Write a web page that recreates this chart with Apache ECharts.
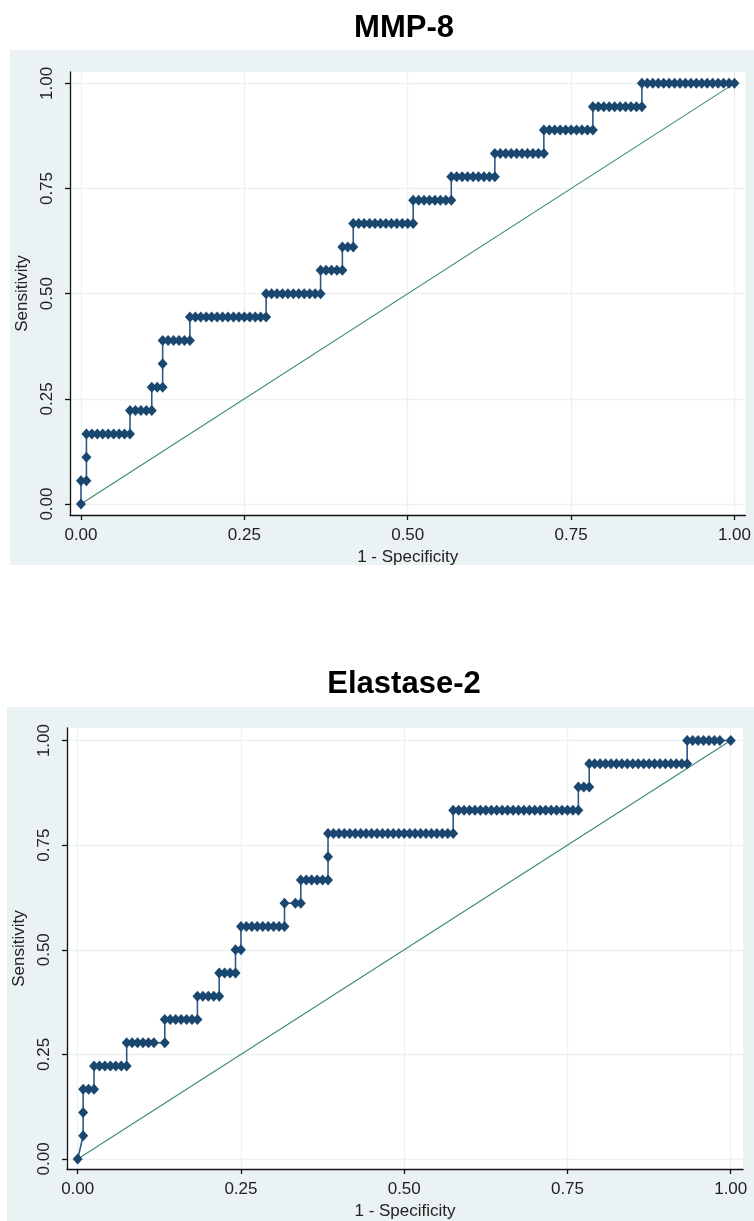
<!DOCTYPE html>
<html>
<head>
<meta charset="utf-8">
<title>ROC curves</title>
<script src="https://cdn.jsdelivr.net/npm/echarts@6/dist/echarts.min.js"></script>
<style>
html, body { margin: 0; padding: 0; background: #fff; }
#roc { width: 754px; height: 1221px; }
</style>
</head>
<body>
<div id="roc"></div>
<script>
// cases behind both curves
var nNeg = 120;
var nPos = 18;

// ROC steps: [true positives, first false positive, last false positive]
var mmp8Steps = [
    [0, 0, 0], [1, 0, 1], [2, 1, 1], [3, 1, 9], [4, 9, 13], [5, 13, 15], [6, 15, 15],
    [7, 15, 20], [8, 20, 34], [9, 34, 44], [10, 44, 48], [11, 48, 50], [12, 50, 61],
    [13, 61, 68], [14, 68, 76], [15, 76, 85], [16, 85, 94], [17, 94, 103], [18, 103, 120]
];
var elastaseSteps = [
    [0, 0, 0], [1, 1, 1], [2, 1, 1], [3, 1, 3], [4, 3, 9], [5, 9, 14], [5, 16, 16],
    [6, 16, 22], [7, 22, 26], [8, 26, 29], [9, 29, 30], [10, 30, 38], [11, 38, 38],
    [11, 40, 41], [12, 41, 46], [13, 46, 46], [14, 46, 69], [15, 69, 92], [16, 92, 94],
    [17, 94, 112], [18, 112, 118], [18, 120, 120]
];

var chanceLine = [[0, 0], [1, 1]];
var tickValues = [0, 0.25, 0.5, 0.75, 1];
var titles = ['MMP-8', 'Elastase-2'];

var bg = '#EAF2F3';
var navy = '#1a476f';
var font = 'Liberation Sans';

function rocPoints(steps) {
    var pts = [];
    steps.forEach(function (s) {
        for (var fp = s[1]; fp <= s[2]; fp++) {
            pts.push([fp / nNeg, s[0] / nPos]);
        }
    });
    return pts;
}

function xAxisFor(i, min, max) {
    return {
        type: 'value', gridIndex: i, min: min, max: max,
        name: '1 - Specificity', nameLocation: 'middle', nameGap: 34,
        nameTextStyle: { fontFamily: font, fontSize: 17, color: '#222' },
        axisLine: { show: true, onZero: false, lineStyle: { color: '#111', width: 1.3 } },
        axisTick: { show: true, length: 5, customValues: tickValues, lineStyle: { color: '#111', width: 1.3 } },
        axisLabel: {
            customValues: tickValues, margin: 12, fontFamily: font, fontSize: 17, color: '#222',
            formatter: function (v) { return v.toFixed(2); }
        },
        splitLine: { show: true, lineStyle: { color: bg, width: 1.3 } }
    };
}

function yAxisFor(i, min, max, gap) {
    return {
        type: 'value', gridIndex: i, min: min, max: max,
        name: 'Sensitivity', nameLocation: 'middle', nameGap: gap, nameRotate: 90,
        nameTextStyle: { fontFamily: font, fontSize: 17, color: '#222' },
        axisLine: { show: true, onZero: false, lineStyle: { color: '#111', width: 1.3 } },
        axisTick: { show: true, length: 5, customValues: tickValues, lineStyle: { color: '#111', width: 1.3 } },
        axisLabel: {
            customValues: tickValues, rotate: 90, margin: 14, fontFamily: font, fontSize: 17, color: '#222',
            formatter: function (v) { return v.toFixed(2); }
        },
        splitLine: { show: true, lineStyle: { color: bg, width: 1.3 } }
    };
}

function rocSeries(i, steps) {
    return {
        type: 'line', xAxisIndex: i, yAxisIndex: i,
        data: rocPoints(steps),
        symbol: 'diamond', symbolSize: [10, 11], showAllSymbol: true,
        lineStyle: { color: '#2c5a85', width: 1.6 },
        itemStyle: { color: navy },
        z: 3
    };
}

function chanceSeries(i) {
    return {
        type: 'line', xAxisIndex: i, yAxisIndex: i,
        data: chanceLine, symbol: 'none',
        lineStyle: { color: '#3b8a70', width: 1.1 },
        z: 2
    };
}

var myChart = echarts.init(document.getElementById('roc'));
var option = {
    animation: false,
    backgroundColor: '#fff',
    title: [
        { text: titles[0], left: 399, top: 8, textAlign: 'center',
          textStyle: { fontFamily: font, fontSize: 31, fontWeight: 'bold', color: '#000' } },
        { text: titles[1], left: 399, top: 664, textAlign: 'center',
          textStyle: { fontFamily: font, fontSize: 31, fontWeight: 'bold', color: '#000' } }
    ],
    graphic: [
        { type: 'rect', left: 10, top: 50, shape: { width: 744, height: 515 }, style: { fill: bg }, z: -10 },
        { type: 'rect', left: 7, top: 707, shape: { width: 747, height: 514 }, style: { fill: bg }, z: -10 }
    ],
    grid: [
        { left: 70, top: 72, right: 6, height: 443, show: true, backgroundColor: '#fff', borderWidth: 0 },
        { left: 67, top: 728, right: 11, height: 442, show: true, backgroundColor: '#fff', borderWidth: 0 }
    ],
    xAxis: [xAxisFor(0, -0.0168, 1.0168), xAxisFor(1, -0.0164, 1.0188)],
    yAxis: [yAxisFor(0, -0.026, 1.027, 32), yAxisFor(1, -0.024, 1.030, 33)],
    series: [
        chanceSeries(0), rocSeries(0, mmp8Steps),
        chanceSeries(1), rocSeries(1, elastaseSteps)
    ]
};
myChart.setOption(option);
</script>
</body>
</html>
